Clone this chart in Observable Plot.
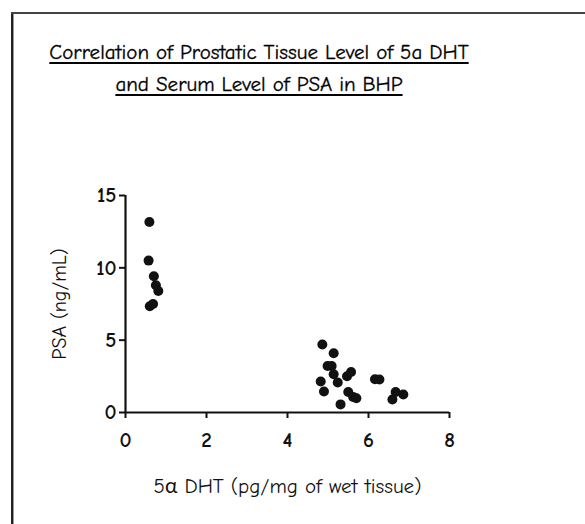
<!DOCTYPE html>
<html>
<head>
<meta charset="utf-8">
<script src="https://cdn.jsdelivr.net/npm/d3@7"></script>
<script src="https://cdn.jsdelivr.net/npm/@observablehq/plot@0.6"></script>
<style>
  html, body { margin: 0; padding: 0; background: #fff; overflow: hidden; }
  body { width: 100%; height: 524px; position: relative;
         font-family: "Comic Sans MS", "Comic Neue", Lato, sans-serif; }
  .edge { position: absolute; }
  #edge-left { left: 11px; top: 12px; width: 2px; height: 512px; background: #222;
               border-right: 1px solid #999; }
  #edge-top { left: 11px; top: 12px; width: 574px; height: 2px; background: #444; }
  #title { position: absolute; left: 0; top: 36px; width: 518px; text-align: center;
           font-size: 21px; line-height: 32px; color: #000; -webkit-text-stroke: 0.3px #000; }
  #title span { text-decoration: underline; text-underline-offset: 3px; }
  #chart { position: absolute; left: 0; top: 100px; width: 585px; height: 424px; }
</style>
</head>
<body>
<div class="edge" id="edge-left"></div>
<div class="edge" id="edge-top"></div>
<div id="title"><span>Correlation of Prostatic Tissue Level of 5a DHT</span><br><span>and Serum Level of PSA in BHP</span></div>
<div id="chart"></div>
<script>
// Prostatic tissue 5α DHT (pg/mg wet tissue) and serum PSA (ng/mL) per patient
const dht = [0.59, 0.57, 0.70, 0.75, 0.81, 0.60, 0.68,
             4.86, 5.14, 4.99, 5.09, 5.14, 5.57, 5.47, 4.82, 5.24, 4.90,
             5.50, 5.62, 5.70, 5.31, 6.16, 6.27, 6.67, 6.86, 6.59];
const psa = [13.17, 10.5, 9.42, 8.8, 8.4, 7.35, 7.5,
             4.7, 4.1, 3.22, 3.22, 2.64, 2.8, 2.5, 2.14, 2.07, 1.45,
             1.42, 1.08, 0.98, 0.56, 2.3, 2.28, 1.42, 1.24, 0.90];
const xTicks = [0, 2, 4, 6, 8];
const yTicks = [0, 5, 10, 15];

const points = dht.map((d, i) => ({dht: d, psa: psa[i]}));
const font = '"Comic Sans MS", "Comic Neue", Lato, sans-serif';

const chart = Plot.plot({
  width: 585,
  height: 424,
  marginLeft: 125,
  marginRight: 136,
  marginTop: 95,
  marginBottom: 112,
  style: {fontFamily: font, fontSize: "15px", color: "#111", background: "transparent"},
  x: {domain: [0, 8], axis: null},
  y: {domain: [0, 15], axis: null},
  marks: [
    // tick marks
    Plot.ruleX(xTicks, {x: d => d, y1: 0, y2: 0, insetBottom: -6, stroke: "#111", strokeWidth: 2}),
    Plot.ruleY(yTicks, {y: d => d, x1: 0, x2: 0, insetLeft: -6, stroke: "#111", strokeWidth: 2}),
    // tick labels
    Plot.text(xTicks, {x: d => d, frameAnchor: "bottom", dy: 34, fontSize: 21, fontWeight: "bold", fill: "#111"}),
    Plot.text(yTicks, {y: d => d, frameAnchor: "left", dx: -9, textAnchor: "end", fontSize: 21, fontWeight: "bold", fill: "#111"}),
    // axis titles
    Plot.text(["5α DHT (pg/mg of wet tissue)"], {frameAnchor: "bottom", dy: 80, fontSize: 21, fill: "#111"}),
    Plot.text(["PSA (ng/mL)"], {frameAnchor: "left", textAnchor: "middle", dx: -66, rotate: -90, fontSize: 20, fill: "#111"}),
    // axis lines
    Plot.ruleY([0], {stroke: "#111", strokeWidth: 2.2}),
    Plot.ruleX([0], {stroke: "#111", strokeWidth: 2.2}),
    Plot.dot(points, {x: "dht", y: "psa", r: 5, fill: "#111", stroke: "none"})
  ]
});
document.getElementById("chart").appendChild(chart);
</script>
</body>
</html>
